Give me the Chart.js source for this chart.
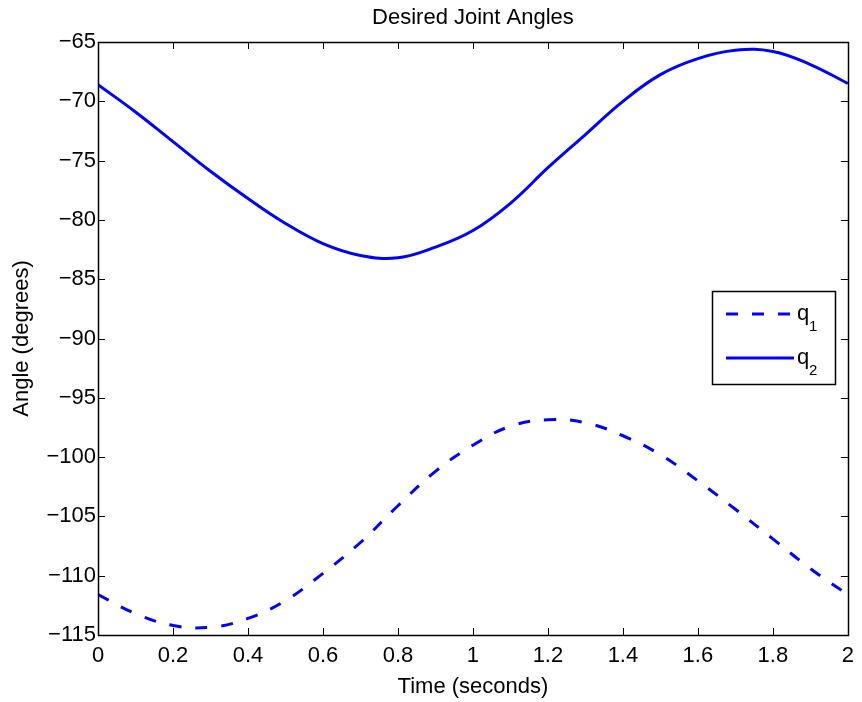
<!DOCTYPE html>
<html>
<head>
<meta charset="utf-8">
<title>Desired Joint Angles</title>
<script src="https://cdn.jsdelivr.net/npm/chart.js@4.4.1/dist/chart.umd.min.js"></script>
<style>
  html, body { margin: 0; padding: 0; background: #fff; }
  #wrap { width: 862px; height: 702px; }
</style>
</head>
<body>
<div id="wrap"><canvas id="angleChart" width="862" height="702"></canvas></div>
<script>
// time samples (seconds)
const time = [0, 0.1, 0.2, 0.3, 0.4, 0.5, 0.6, 0.7, 0.8, 0.9, 1.0,
              1.1, 1.2, 1.3, 1.4, 1.5, 1.6, 1.7, 1.8, 1.9, 2.0];

// q1 - dashed curve (degrees)
const q1 = [-111.6, -113.2, -114.2, -114.35, -113.6, -112.1, -109.8, -107.2, -104.1, -101.2, -99.0,
            -97.4, -96.85, -97.1, -98.2, -99.8, -102.0, -104.4, -106.9, -109.4, -111.6];

// q2 - solid curve (degrees)
const q2 = [-68.6, -70.9, -73.4, -75.9, -78.2, -80.3, -82.0, -83.0, -83.2, -82.3, -80.9,
            -78.6, -75.6, -72.8, -70.0, -67.75, -66.4, -65.7, -65.8, -66.9, -68.5];

const xTicks = { min: 0, max: 2, step: 0.2 };
const yTicks = { min: -115, max: -65, step: 5 };

const FONT = "'Liberation Sans', Arial, Helvetica, sans-serif";
const FONT_SIZE = 22;
const LINE_BLUE = '#0000ff';
const DASH = [12, 14];

function toPoints(xs, ys) {
  return xs.map((x, i) => ({ x: x, y: ys[i] }));
}

function fmt(v) {
  const s = String(Number(v.toFixed(1)));
  return s.replace('-', '\u2212');
}

// box around the plot, ticks pointing inward on all four sides, and the legend
const matlabFrame = {
  id: 'matlabFrame',
  afterDraw(chart) {
    const ctx = chart.ctx;
    const a = chart.chartArea;
    const xs = chart.scales.x, ys = chart.scales.y;
    const len = 7;
    ctx.save();
    ctx.strokeStyle = '#000';
    ctx.lineWidth = 1;
    ctx.beginPath();
    xs.ticks.forEach(t => {
      const px = Math.round(xs.getPixelForValue(t.value)) + 0.5;
      ctx.moveTo(px, a.bottom); ctx.lineTo(px, a.bottom - len);
      ctx.moveTo(px, a.top); ctx.lineTo(px, a.top + len);
    });
    ys.ticks.forEach(t => {
      const py = Math.round(ys.getPixelForValue(t.value)) + 0.5;
      ctx.moveTo(a.left, py); ctx.lineTo(a.left + len, py);
      ctx.moveTo(a.right, py); ctx.lineTo(a.right - len, py);
    });
    ctx.stroke();
    ctx.lineWidth = 1.5;
    ctx.strokeRect(Math.round(a.left) + 0.5, Math.round(a.top) + 0.5,
                   Math.round(a.right - a.left), Math.round(a.bottom - a.top));

    // legend
    const lx = 712, ly = 291, lw = 123, lh = 93;
    ctx.fillStyle = '#fff';
    ctx.fillRect(lx, ly, lw, lh);
    ctx.lineWidth = 1.5;
    ctx.strokeRect(lx + 0.5, ly + 0.5, lw, lh);
    const rows = [{ y: 314, sub: '1' }, { y: 358, sub: '2' }];
    chart.data.datasets.forEach((ds, i) => {
      const r = rows[i];
      ctx.strokeStyle = ds.borderColor;
      ctx.lineWidth = ds.borderWidth;
      ctx.setLineDash(ds.borderDash || []);
      ctx.beginPath();
      ctx.moveTo(726, r.y);
      ctx.lineTo(794, r.y);
      ctx.stroke();
      ctx.setLineDash([]);
      ctx.fillStyle = '#000';
      ctx.textBaseline = 'alphabetic';
      ctx.textAlign = 'left';
      ctx.font = FONT_SIZE + 'px ' + FONT;
      ctx.fillText('q', 797, r.y + 6);
      ctx.font = '15px ' + FONT;
      ctx.fillText(r.sub, 809, r.y + 17);
    });
    ctx.restore();
  }
};

const ctx = document.getElementById('angleChart').getContext('2d');
const angleChart = new Chart(ctx, {
  type: 'line',
  data: {
    datasets: [{
      label: 'q1',
      data: toPoints(time, q1),
      borderColor: LINE_BLUE,
      borderWidth: 3,
      borderDash: DASH,
      pointRadius: 0,
      fill: false,
      tension: 0.4
    }, {
      label: 'q2',
      data: toPoints(time, q2),
      borderColor: LINE_BLUE,
      borderWidth: 3,
      pointRadius: 0,
      fill: false,
      tension: 0.4
    }]
  },
  options: {
    responsive: false,
    animation: false,
    events: [],
    layout: { padding: { left: 0, right: 12, top: 0, bottom: 0 } },
    plugins: {
      legend: { display: false },
      tooltip: { enabled: false },
      title: {
        display: true,
        fullSize: false,
        text: 'Desired Joint Angles',
        color: '#000',
        font: { family: FONT, size: FONT_SIZE, weight: 'normal' },
        padding: { top: 5, bottom: 10.6 }
      }
    },
    scales: {
      x: {
        type: 'linear',
        min: xTicks.min,
        max: xTicks.max,
        grid: { display: false, drawTicks: false },
        border: { display: false },
        ticks: {
          stepSize: xTicks.step,
          color: '#000',
          padding: 8,
          maxRotation: 0,
          font: { family: FONT, size: FONT_SIZE },
          callback: v => fmt(v)
        },
        title: {
          display: true,
          text: 'Time (seconds)',
          color: '#000',
          font: { family: FONT, size: FONT_SIZE },
          padding: { top: 0, bottom: 2 }
        },
        afterFit: s => { s.height = 67; }
      },
      y: {
        type: 'linear',
        min: yTicks.min,
        max: yTicks.max,
        grid: { display: false, drawTicks: false },
        border: { display: false },
        ticks: {
          stepSize: yTicks.step,
          color: '#000',
          padding: 2,
          font: { family: FONT, size: FONT_SIZE },
          callback: v => fmt(v)
        },
        title: {
          display: true,
          text: 'Angle (degrees)',
          color: '#000',
          font: { family: FONT, size: FONT_SIZE },
          padding: { top: 9, bottom: 0 }
        },
        afterFit: s => { s.width = 98; }
      }
    }
  },
  plugins: [matlabFrame]
});
</script>
</body>
</html>
